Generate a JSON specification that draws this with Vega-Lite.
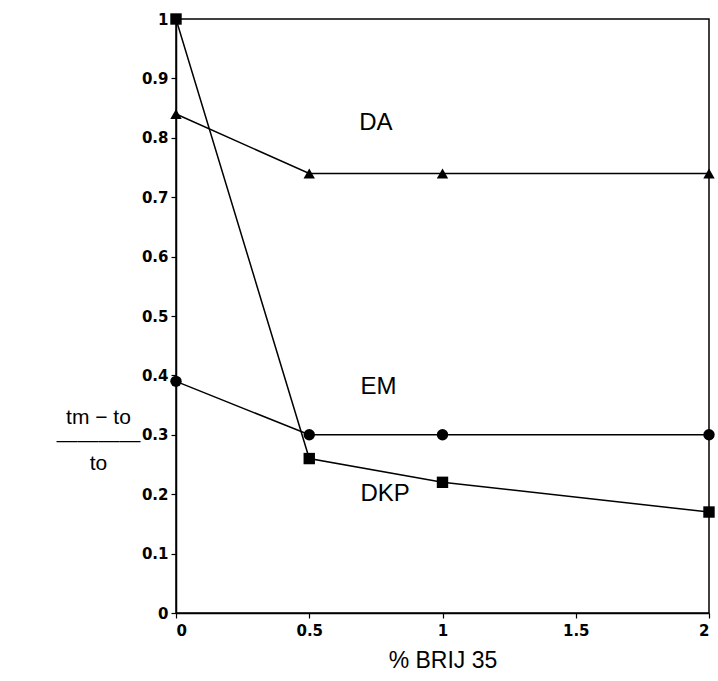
{
  "$schema": "https://vega.github.io/schema/vega-lite/v6.json",
  "width": 533,
  "height": 594,
  "autosize": {"type": "none"},
  "padding": {"left": 176, "top": 19, "right": 9, "bottom": 68},
  "background": "white",
  "config": {
    "view": {"stroke": "black", "strokeWidth": 1.5},
    "axis": {
      "grid": false,
      "domainColor": "black",
      "domainWidth": 1.5,
      "tickColor": "black",
      "tickWidth": 1.2,
      "tickSize": 5,
      "labelColor": "black",
      "titleColor": "black",
      "titleFontWeight": "normal"
    }
  },
  "datasets": {
    "pts": [
      {"series": "DA", "brij": 0, "value": 0.84},
      {"series": "DA", "brij": 0.5, "value": 0.74},
      {"series": "DA", "brij": 1, "value": 0.74},
      {"series": "DA", "brij": 2, "value": 0.74},
      {"series": "EM", "brij": 0, "value": 0.39},
      {"series": "EM", "brij": 0.5, "value": 0.30},
      {"series": "EM", "brij": 1, "value": 0.30},
      {"series": "EM", "brij": 2, "value": 0.30},
      {"series": "DKP", "brij": 0, "value": 1.0},
      {"series": "DKP", "brij": 0.5, "value": 0.26},
      {"series": "DKP", "brij": 1, "value": 0.22},
      {"series": "DKP", "brij": 2, "value": 0.17}
    ],
    "labels": [
      {"label": "DA", "brij": 0.75, "value": 0.825},
      {"label": "EM", "brij": 0.76, "value": 0.38},
      {"label": "DKP", "brij": 0.785, "value": 0.2}
    ]
  },
  "encoding": {
    "x": {
      "field": "brij",
      "type": "quantitative",
      "scale": {"domain": [0, 2], "nice": false},
      "axis": {
        "values": [0, 0.5, 1, 1.5, 2],
        "format": "~g",
        "labelFont": "DejaVu Sans",
        "labelFontWeight": "bold",
        "labelFontSize": 15,
        "title": "% BRIJ 35",
        "titleFont": "Liberation Sans",
        "titleFontSize": 23,
        "titlePadding": 11,
        "labelPadding": 5
      }
    },
    "y": {
      "field": "value",
      "type": "quantitative",
      "scale": {"domain": [0, 1], "nice": false},
      "axis": {
        "values": [0, 0.1, 0.2, 0.3, 0.4, 0.5, 0.6, 0.7, 0.8, 0.9, 1],
        "format": "~g",
        "labelFont": "DejaVu Sans",
        "labelFontWeight": "bold",
        "labelFontSize": 15,
        "labelPadding": 3,
        "title": ["tm  − to", "――――", "to"],
        "titleFont": "Liberation Sans",
        "titleAngle": 0,
        "titleAlign": "center",
        "titleBaseline": "middle",
        "titleFontSize": 21,
        "titleX": -78,
        "titleY": 398,
        "titleLineHeight": 23
      }
    }
  },
  "layer": [
    {
      "data": {"name": "pts"},
      "mark": {"type": "line", "color": "black", "strokeWidth": 1.5},
      "encoding": {"detail": {"field": "series"}}
    },
    {
      "data": {"name": "pts"},
      "mark": {"type": "point", "filled": true, "color": "black", "opacity": 1, "size": 130},
      "encoding": {
        "shape": {
          "field": "series",
          "type": "nominal",
          "scale": {"domain": ["DA", "EM", "DKP"], "range": ["triangle-up", "circle", "square"]},
          "legend": null
        }
      }
    },
    {
      "data": {"name": "labels"},
      "mark": {"type": "text", "font": "Liberation Sans", "fontSize": 24, "color": "black", "align": "center", "baseline": "middle"},
      "encoding": {"text": {"field": "label"}}
    }
  ]
}
